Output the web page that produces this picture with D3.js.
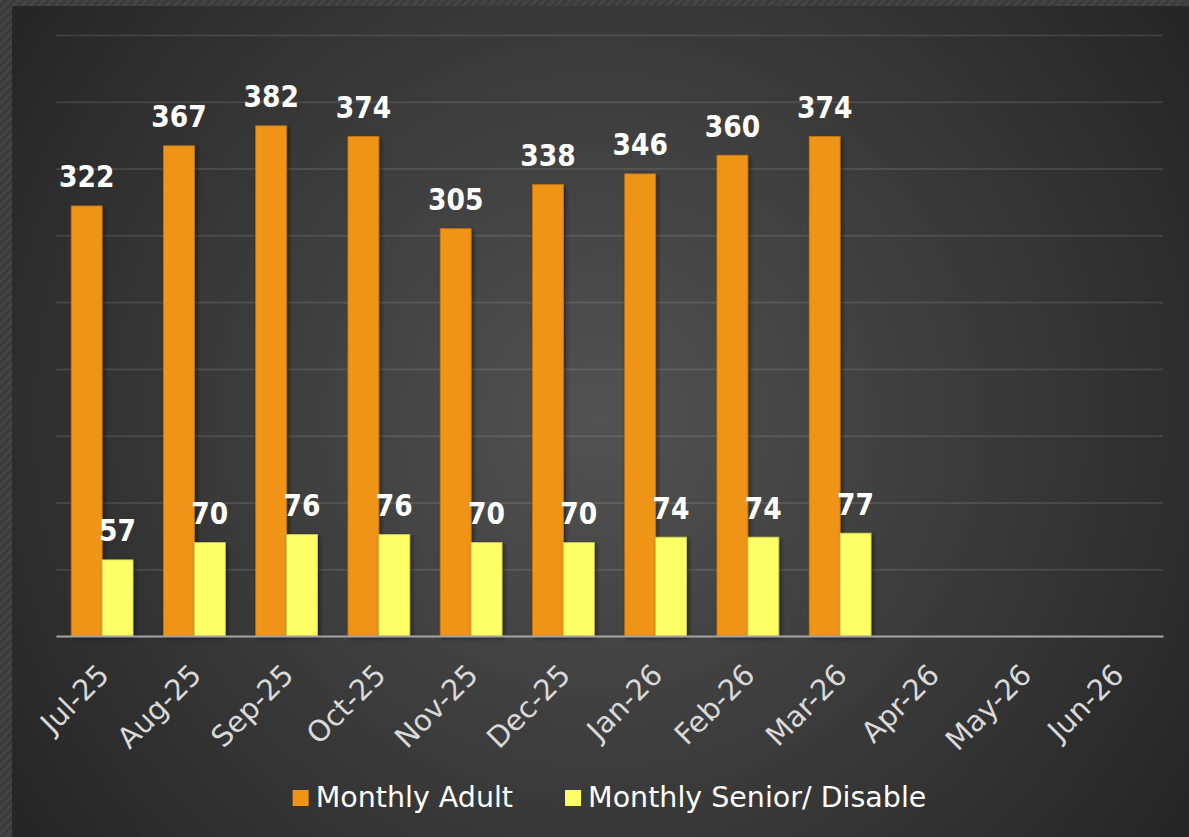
<!DOCTYPE html>
<html>
<head>
<meta charset="utf-8">
<script src="https://cdn.jsdelivr.net/npm/d3@7"></script>
<style>
  html, body { margin: 0; padding: 0; background: #3a3a3a; }
  svg { display: block; }
  text { font-family: "DejaVu Sans", sans-serif; }
</style>
</head>
<body>
<div class="wrapper"></div>
<script>
var months = ["Jul-25", "Aug-25", "Sep-25", "Oct-25", "Nov-25", "Dec-25", "Jan-26", "Feb-26", "Mar-26", "Apr-26", "May-26", "Jun-26"];
var adult = [322, 367, 382, 374, 305, 338, 346, 360, 374, null, null, null];
var senior = [57, 70, 76, 76, 70, 70, 74, 74, 77, null, null, null];
var seriesNames = ["Monthly Adult", "Monthly Senior/ Disable"];
var yTicks = [0, 50, 100, 150, 200, 250, 300, 350, 400, 450];

var width = 1189, height = 837;
var margin = {top: 35, right: 26, bottom: 201, left: 56};
var innerW = width - margin.left - margin.right,
    innerH = height - margin.top - margin.bottom;

var svg = d3.select(".wrapper").append("svg")
  .attr("width", width)
  .attr("height", height);

var defs = svg.append("defs");

// hatched frame round the chart
var pat = defs.append("pattern")
  .attr("id", "hatch")
  .attr("width", 6).attr("height", 6)
  .attr("patternUnits", "userSpaceOnUse")
  .attr("patternTransform", "rotate(45)");
pat.append("rect").attr("width", 6).attr("height", 6).attr("fill", "#3b3b3b");
pat.append("rect").attr("width", 3).attr("height", 6).attr("fill", "#444444");

var grad = defs.append("radialGradient")
  .attr("id", "bg")
  .attr("gradientUnits", "userSpaceOnUse")
  .attr("cx", 600).attr("cy", 420).attr("r", 700);
grad.append("stop").attr("offset", "0%").attr("stop-color", "#525252");
grad.append("stop").attr("offset", "100%").attr("stop-color", "#262626");

var shadow = defs.append("filter").attr("id", "shadow")
  .attr("x", "-20%").attr("y", "-5%").attr("width", "150%").attr("height", "115%");
shadow.append("feDropShadow")
  .attr("dx", 2).attr("dy", 2).attr("stdDeviation", 2)
  .attr("flood-color", "#000").attr("flood-opacity", 0.45);

svg.append("rect").attr("width", width).attr("height", height).attr("fill", "url(#hatch)");
svg.append("rect")
  .attr("x", 12).attr("y", 6)
  .attr("width", width - 12).attr("height", height - 6)
  .attr("rx", 2)
  .attr("fill", "url(#bg)");

var g = svg.append("g").attr("transform", "translate(" + margin.left + "," + margin.top + ")");

var x0 = d3.scaleBand()
  .domain(months)
  .range([0, innerW])
  .paddingInner(0.33)
  .paddingOuter(0.165);
var x1 = d3.scaleBand()
  .domain(seriesNames)
  .range([0, x0.bandwidth()]);
var y = d3.scaleLinear()
  .domain([0, 450])
  .range([innerH, 0]);
var color = d3.scaleOrdinal()
  .domain(seriesNames)
  .range(["#ef9415", "#ffff66"]);

// gridlines
g.append("g")
  .attr("class", "grid")
  .call(d3.axisLeft(y).tickValues(yTicks.slice(1)).tickSize(-innerW).tickFormat(""))
  .call(function(s) {
    s.select(".domain").remove();
    s.selectAll("line").attr("stroke", "#ffffff").attr("stroke-opacity", 0.1).attr("stroke-width", 2);
  });

var rows = months.map(function(m, i) {
  return {month: m, values: [
    {key: seriesNames[0], value: adult[i]},
    {key: seriesNames[1], value: senior[i]}
  ]};
});

var groups = g.append("g")
  .selectAll("g")
  .data(rows)
  .enter().append("g")
    .attr("transform", function(d) { return "translate(" + x0(d.month) + ",0)"; });

groups.selectAll("rect")
  .data(function(d) { return d.values.filter(function(v) { return v.value != null; }); })
  .enter().append("rect")
    .attr("x", function(d) { return x1(d.key); })
    .attr("y", function(d) { return y(d.value); })
    .attr("width", x1.bandwidth())
    .attr("height", function(d) { return innerH - y(d.value); })
    .attr("fill", function(d) { return color(d.key); })
    .attr("stroke", function(d) { return d3.color(color(d.key)).darker(0.6); })
    .attr("stroke-width", 0.8)
    .attr("filter", "url(#shadow)");

groups.selectAll("text.val")
  .data(function(d) { return d.values.filter(function(v) { return v.value != null; }); })
  .enter().append("text")
    .attr("class", "val")
    .attr("x", function(d) { return x1(d.key) + x1.bandwidth() / 2; })
    .attr("y", function(d) { return y(d.value) - 18.5; })
    .attr("text-anchor", "middle")
    .attr("fill", "#ffffff")
    .attr("font-weight", "bold")
    .attr("font-stretch", "condensed")
    .attr("font-size", 29.5)
    .text(function(d) { return d.value; });

// x axis
var xAxis = g.append("g")
  .attr("transform", "translate(0," + innerH + ")")
  .call(d3.axisBottom(x0).tickSize(0).tickPadding(0));
xAxis.select(".domain").attr("stroke", "#a6a6a6").attr("stroke-width", 2);
xAxis.selectAll(".tick text")
  .attr("fill", "#d9d9d9")
  .attr("font-size", 29)
  .attr("text-anchor", "end")
  .attr("dy", "0.72em")
  .attr("y", 0)
  .attr("transform", "translate(-6,26) rotate(-45)");

// legend
var legend = svg.append("g").attr("transform", "translate(0,807)");
var items = legend.selectAll("g")
  .data(seriesNames)
  .enter().append("g");
items.append("rect")
  .attr("y", -17)
  .attr("width", 16)
  .attr("height", 16)
  .attr("fill", color);
items.append("text")
  .attr("x", 23)
  .attr("fill", "#ffffff")
  .attr("font-size", 28.5)
  .text(function(d) { return d; });

var widths = [];
items.each(function() { widths.push(23 + d3.select(this).select("text").node().getComputedTextLength()); });
var gap = 52;
var total = d3.sum(widths) + gap * (widths.length - 1);
var lx = margin.left + innerW / 2 - total / 2;
items.attr("transform", function(d, i) {
  var pos = lx;
  lx += widths[i] + gap;
  return "translate(" + pos + ",0)";
});
</script>
</body>
</html>
